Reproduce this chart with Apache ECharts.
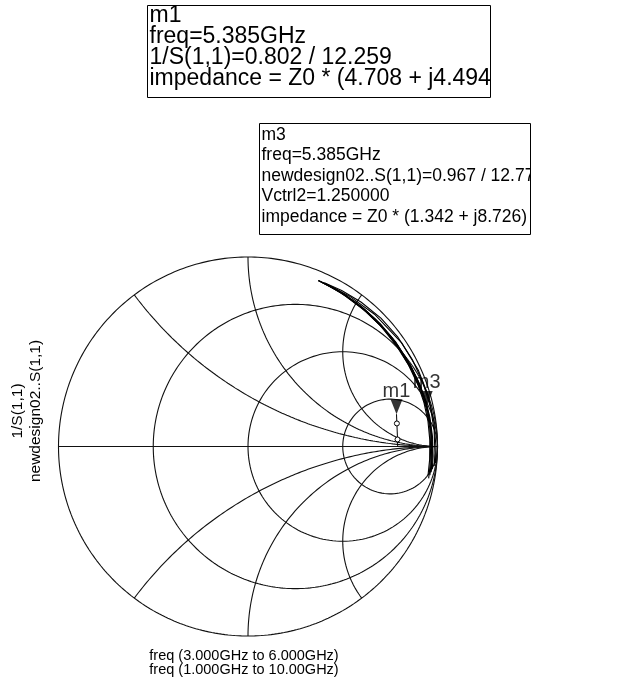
<!DOCTYPE html>
<html>
<head>
<meta charset="utf-8">
<script src="https://cdn.jsdelivr.net/npm/echarts@6/dist/echarts.min.js"></script>
<style>
  html, body { margin: 0; padding: 0; background: #fff; }
  #chart { width: 620px; height: 684px; }
</style>
</head>
<body>
<div id="chart"></div>
<script>
// Smith chart grid values (normalised impedance)
const resistanceCircles = [1 / 3, 1, 3];
const reactanceArcs = [0.5, 1, 2, -0.5, -1, -2];

// 1/S(1,1), freq 3.000GHz to 6.000GHz : [magnitude, angle in degrees]
const invS11 = [[0.790, 0.0], [0.790, 2.7], [0.795, 8.8], [0.802, 12.259]];
// points of invS11 that carry a small open-circle symbol
const invS11Symbols = [1, 2];

// newdesign02..S(1,1), freq 1.000GHz to 10.00GHz, one curve per Vctrl2 step
const vctrl2Steps = ['1.000000', '1.250000', '1.500000', '0.750000', '0.500000', '0.250000', '1.750000', '2.000000'];
const s11Curves = [
  [[0.972, -9], [0.970, -5], [0.969, 0], [0.968, 6], [0.966, 12], [0.962, 18], [0.956, 25], [0.951, 33], [0.949, 41], [0.948, 49], [0.949, 57], [0.950, 63], [0.951, 67]],
  [[0.976, -8], [0.974, -4], [0.972, 1], [0.970, 7], [0.967, 12.779], [0.963, 19], [0.958, 26], [0.953, 34], [0.950, 42], [0.949, 50], [0.950, 58], [0.951, 66]],
  [[0.980, -7], [0.978, -3], [0.975, 3], [0.972, 9], [0.969, 14], [0.964, 20], [0.959, 27], [0.955, 35], [0.952, 43], [0.951, 51], [0.951, 59], [0.952, 65]],
  [[0.968, -10], [0.966, -6], [0.964, 0], [0.964, 6], [0.962, 12], [0.958, 18], [0.953, 25], [0.949, 33], [0.947, 41], [0.946, 49], [0.947, 57], [0.949, 63], [0.950, 67]],
  [[0.988, -6], [0.987, -2], [0.986, 5], [0.985, 12], [0.983, 20], [0.981, 28], [0.979, 36], [0.975, 44], [0.968, 52], [0.960, 59], [0.953, 65]],
  [[0.993, -5], [0.992, 0], [0.990, 8], [0.988, 16], [0.985, 24], [0.978, 34], [0.966, 46], [0.957, 56], [0.952, 64]],
  [[0.962, -9], [0.961, -4], [0.960, 2], [0.959, 8], [0.957, 14], [0.954, 20], [0.950, 27], [0.947, 35], [0.946, 43], [0.946, 51], [0.948, 59], [0.950, 66]],
  [[0.974, -7], [0.973, -2], [0.971, 4], [0.969, 10], [0.966, 16], [0.961, 22], [0.956, 29], [0.953, 37], [0.951, 45], [0.950, 53], [0.951, 61], [0.951, 67]]
];

// markers : [name, magnitude, angle]
const markers = [['m1', 0.802, 12.259], ['m3', 0.967, 12.779]];

// marker readouts
const m1Lines = ['m1', 'freq=5.385GHz', '1/S(1,1)=0.802 / 12.259', 'impedance = Z0 * (4.708 + j4.494)'];
const m3Lines = ['m3', 'freq=5.385GHz', 'newdesign02..S(1,1)=0.967 / 12.779', 'Vctrl2=1.250000', 'impedance = Z0 * (1.342 + j8.726)'];
const yLabels = ['1/S(1,1)', 'newdesign02..S(1,1)'];
const xLabels = ['freq (3.000GHz to 6.000GHz)', 'freq (1.000GHz to 10.00GHz)'];

const FONT = '"Liberation Sans", Arial, sans-serif';

function polar(mag, deg) {
  const a = deg * Math.PI / 180;
  return [mag * Math.cos(a), mag * Math.sin(a)];
}
function gammaOf(r, x) {
  const den = (r + 1) * (r + 1) + x * x;
  return [(r * r + x * x - 1) / den, (2 * x) / den];
}

const gridColor = '#111';
const series = [];
function addLine(data, color, width) {
  series.push({
    type: 'line', data: data, showSymbol: false, symbol: 'none', silent: true,
    lineStyle: { color: color, width: width }, animation: false, clip: false, z: 2
  });
}

// outer circle (r = 0)
const outer = [];
for (let i = 0; i <= 360; i++) outer.push(polar(1, i));
addLine(outer, gridColor, 1.1);
// real axis
addLine([[-1, 0], [1, 0]], gridColor, 1.1);
// constant resistance circles
resistanceCircles.forEach(function (r) {
  const c = r / (1 + r), rad = 1 / (1 + r), pts = [];
  for (let i = 0; i <= 360; i++) {
    const a = i * Math.PI / 180;
    pts.push([c + rad * Math.cos(a), rad * Math.sin(a)]);
  }
  addLine(pts, gridColor, 1.1);
});
// constant reactance arcs
reactanceArcs.forEach(function (x) {
  const pts = [];
  for (let i = 0; i < 400; i++) {
    const r = Math.tan(i / 400 * Math.PI / 2);
    pts.push(gammaOf(r, x));
  }
  pts.push([1, 0]);
  addLine(pts, gridColor, 1.1);
});

// S(1,1) curves
s11Curves.forEach(function (curve, k) {
  series.push({
    name: 'Vctrl2=' + vctrl2Steps[k], type: 'line', silent: true, animation: false,
    data: curve.map(function (p) { return polar(p[0], p[1]); }),
    showSymbol: false, symbol: 'none', lineStyle: { color: '#000', width: 1.1 }, z: 3
  });
});

// 1/S(1,1) trace
series.push({
  name: '1/S(1,1)', type: 'line', silent: true, animation: false,
  data: invS11.map(function (p, i) {
    const item = { value: polar(p[0], p[1]) };
    item.symbol = invS11Symbols.indexOf(i) >= 0 ? 'circle' : 'none';
    return item;
  }),
  symbolSize: 5, showAllSymbol: true,
  itemStyle: { color: '#fff', borderColor: '#000', borderWidth: 1 },
  lineStyle: { color: '#000', width: 1 }, z: 4
});

// markers
series.push({
  type: 'scatter', silent: true, animation: false, z: 5,
  data: markers.map(function (m) { return { name: m[0], value: polar(m[1], m[2]) }; }),
  symbol: 'path://M0,0 L12,0 L6,14 Z', symbolSize: [12, 15], symbolOffset: [0, -7.5],
  itemStyle: { color: '#000' },
  label: {
    show: true, position: 'top', distance: -2, formatter: '{b}',
    fontFamily: FONT, fontSize: 20, color: '#000'
  }
});

// readout boxes: text runs past the right border and is masked off there
const graphics = [];
function readout(lines, x, y, w, h, fontSize, pitch, firstY) {
  graphics.push({
    type: 'rect', shape: { x: x, y: y, width: w, height: h },
    style: { fill: '#fff', stroke: null }, z: 10
  });
  lines.forEach(function (t, i) {
    graphics.push({
      type: 'text', z: 11,
      style: {
        text: t, x: x + 2, y: firstY + i * pitch, fill: '#000',
        font: fontSize + 'px ' + FONT, verticalAlign: 'middle', align: 'left'
      }
    });
  });
  graphics.push({
    type: 'rect', shape: { x: x + w, y: y - 2, width: 620 - x - w, height: h + 4 },
    style: { fill: '#fff', stroke: null }, z: 12
  });
  graphics.push({
    type: 'rect', shape: { x: x, y: y, width: w, height: h },
    style: { fill: null, stroke: '#000', lineWidth: 1 }, z: 13
  });
}
readout(m1Lines, 147.5, 5.5, 343, 92, 23, 21, 16);
readout(m3Lines, 259.5, 123.5, 271, 111, 17.5, 20.5, 135);

// axis titles
yLabels.forEach(function (t, i) {
  graphics.push({
    type: 'text', x: 18 + i * 18, y: 411, rotation: Math.PI / 2,
    style: { text: t, fill: '#000', font: '15.5px ' + FONT, align: 'center', verticalAlign: 'middle' }
  });
});
xLabels.forEach(function (t, i) {
  graphics.push({
    type: 'text', x: 244, y: 656 + i * 14,
    style: { text: t, fill: '#000', font: '14.5px ' + FONT, align: 'center', verticalAlign: 'middle' }
  });
});

const chart = echarts.init(document.getElementById('chart'), null, { renderer: 'canvas' });
chart.setOption({
  animation: false,
  backgroundColor: '#fff',
  grid: { left: 58.5, top: 257, width: 379, height: 379, containLabel: false },
  xAxis: { type: 'value', min: -1, max: 1, show: false },
  yAxis: { type: 'value', min: -1, max: 1, show: false },
  series: series,
  graphic: graphics
});
</script>
</body>
</html>
